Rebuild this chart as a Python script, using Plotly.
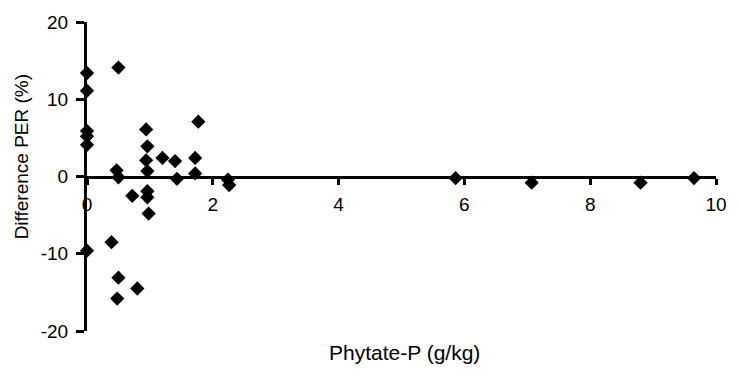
import plotly.graph_objects as go

phytate_p = [0, 0, 0, 0, 0, 0,
             0.39, 0.47, 0.50, 0.50, 0.50, 0.48,
             0.72, 0.80,
             0.94, 0.96, 0.94, 0.96, 0.96, 0.96, 0.98,
             1.20, 1.40, 1.43,
             1.72, 1.72, 1.77,
             2.24, 2.26,
             5.86, 7.07, 8.80, 9.65]
diff_per = [13.4, 11.1, 5.9, 5.2, 4.1, -9.6,
            -8.5, 0.8, -0.1, 14.1, -13.1, -15.8,
            -2.5, -14.5,
            6.1, 3.9, 2.1, 0.7, -1.9, -2.7, -4.8,
            2.4, 2.0, -0.3,
            2.4, 0.4, 7.1,
            -0.4, -1.1,
            -0.2, -0.8, -0.8, -0.2]

x_ticks = [0, 2, 4, 6, 8, 10]
x_ticktext = ["0", "2", "4", "6", "8", "10"]
y_ticks = [-20, -10, 0, 10, 20]
y_ticktext = ["-20", "-10", "0", "10", "20"]

FONT = "Liberation Sans, Arial, sans-serif"
TXT = "#000000"

fig = go.Figure()
fig.add_trace(go.Scatter(
    x=phytate_p, y=diff_per, mode="markers",
    marker=dict(symbol="diamond", size=11, color="#000000", line=dict(width=0)),
    cliponaxis=False, showlegend=False,
))

fig.update_layout(
    width=739, height=381,
    margin=dict(l=87, r=12, t=17, b=50),
    paper_bgcolor="white", plot_bgcolor="white",
    font=dict(family=FONT, size=19, color=TXT),
    xaxis=dict(
        range=[0, 10], anchor="free", position=0.5,
        showline=True, linecolor="#000", linewidth=3,
        ticks="outside", ticklen=6, tickwidth=3, tickcolor="#000",
        tickvals=x_ticks, ticktext=x_ticktext,
        ticklabelstandoff=4,
        showgrid=False, zeroline=False, layer="below traces",
    ),
    yaxis=dict(
        range=[-20, 20], domain=[0, 1],
        showline=True, linecolor="#000", linewidth=3,
        ticks="outside", ticklen=8, tickwidth=3, tickcolor="#000",
        tickvals=y_ticks, ticktext=y_ticktext,
        ticklabelstandoff=4,
        showgrid=False, zeroline=False, layer="below traces",
    ),
    annotations=[
        dict(text="Phytate-P (g/kg)", xref="paper", yref="paper",
             x=0.505, y=-0.070, showarrow=False, xanchor="center", yanchor="middle",
             font=dict(family=FONT, size=21, color=TXT)),
        dict(text="Difference PER (%)", xref="paper", yref="paper",
             x=-0.105, y=0.565, showarrow=False, textangle=-90,
             xanchor="center", yanchor="middle",
             font=dict(family=FONT, size=19, color=TXT)),
    ],
)

fig.write_html("out.html")
